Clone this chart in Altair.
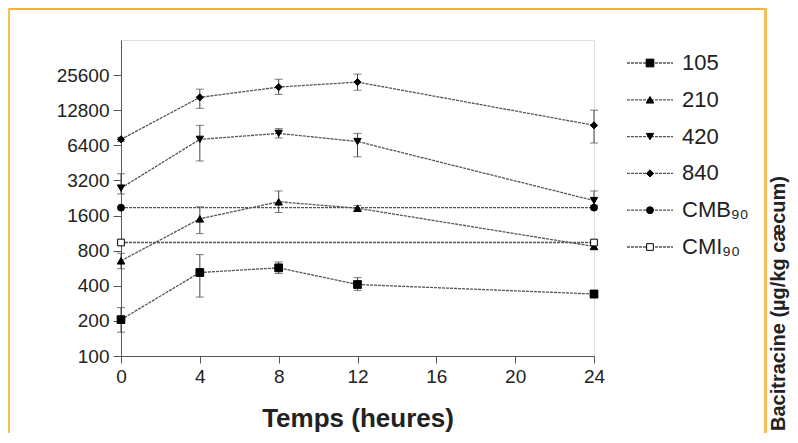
import altair as alt
import pandas as pd
import numpy as np

# ---------------- data ----------------
times = [0, 4, 8, 12, 24]
series_keys = ["105", "210", "420", "840", "CMB", "CMI"]
legend_labels = ["105", "210", "420", "840", "CMB₉₀", "CMI₉₀"]

v105 = [205, 520, 570, 410, 340]
lo105 = [160, 320, 510, 365, 315]
hi105 = [260, 740, 640, 470, 365]

v210 = [655, 1500, 2100, 1850, 870]
lo210 = [560, 1120, 1700, 1750, 820]
hi210 = [760, 1900, 2600, 1950, 920]

v420 = [2750, 7200, 8100, 6900, 2150]
lo420 = [2450, 4700, 7400, 5100, 1950]
hi420 = [3650, 9500, 8900, 8100, 2600]

v840 = [7200, 16500, 20200, 22300, 9500]
lo840 = [6900, 13300, 17500, 19000, 6700]
hi840 = [7500, 19400, 23600, 26100, 12800]

ref_times = [0, 24]
cmb_value = 1870
cmi_value = 940

y_ticks = [100, 200, 400, 800, 1600, 3200, 6400, 12800, 25600]
x_ticks = [0, 4, 8, 12, 16, 20, 24]
y_title = "Bacitracine (µg/kg cæcum)"
x_title = "Temps (heures)"

# ---------------- tables ----------------
rows = []
for key, v, lo, hi in [("105", v105, lo105, hi105), ("210", v210, lo210, hi210),
                       ("420", v420, lo420, hi420), ("840", v840, lo840, hi840)]:
    for t, a, b, c in zip(times, v, lo, hi):
        rows.append({"series": key, "t": t, "value": a, "lo": b, "hi": c})
for key, val in [("CMB", cmb_value), ("CMI", cmi_value)]:
    for t in ref_times:
        rows.append({"series": key, "t": t, "value": val, "lo": np.nan, "hi": np.nan})
df = pd.DataFrame(rows)
err = df.dropna(subset=["lo", "hi"])

leg = pd.DataFrame({"series": series_keys, "label": legend_labels})

FONT = "Liberation Sans"
shape_scale = alt.Scale(domain=series_keys,
                        range=["square", "triangle-up", "triangle-down", "diamond", "circle", "square"])
fill_scale = alt.Scale(domain=series_keys,
                       range=["black", "black", "black", "black", "black", "white"])
size_scale = alt.Scale(domain=series_keys, range=[60, 45, 45, 35, 60, 40])

x_enc = alt.X("t:Q", scale=alt.Scale(domain=[0, 24], nice=False),
              axis=alt.Axis(values=x_ticks, title=x_title, tickSize=7, labelPadding=4,
                            labelFlush=False,
                            titlePadding=19, titleFontSize=26, titleFontWeight="bold",
                            labelFontSize=19, domainColor="#555", tickColor="#555",
                            labelColor="#222", titleColor="#222", labelFont=FONT, titleFont=FONT,
                            grid=False))
y_scale = alt.Scale(type="log", base=2, domain=[100, 51200], nice=False)
y_axis = alt.Axis(values=y_ticks, format="d", title=None, tickSize=8, labelPadding=4,
                  labelFontSize=19, domainColor="#555", tickColor="#555", labelColor="#222",
                  labelFont=FONT, grid=False)

base = alt.Chart(df)
lines = base.mark_line(color="#555", strokeWidth=1.3, strokeDash=[3, 1]).encode(
    x=x_enc, y=alt.Y("value:Q", scale=y_scale, axis=y_axis), detail="series:N")
ebar = alt.Chart(err).mark_rule(color="#444", strokeWidth=1).encode(
    x="t:Q", y=alt.Y("lo:Q", scale=y_scale), y2="hi:Q")
cap_lo = alt.Chart(err).mark_tick(color="#444", orient="horizontal", size=8, thickness=1).encode(
    x="t:Q", y=alt.Y("lo:Q", scale=y_scale))
cap_hi = alt.Chart(err).mark_tick(color="#444", orient="horizontal", size=8, thickness=1).encode(
    x="t:Q", y=alt.Y("hi:Q", scale=y_scale))
pts = base.mark_point(stroke="black", strokeWidth=1, opacity=1, fillOpacity=1).encode(
    x="t:Q", y=alt.Y("value:Q", scale=y_scale),
    shape=alt.Shape("series:N", scale=shape_scale, legend=None),
    fill=alt.Fill("series:N", scale=fill_scale, legend=None),
    size=alt.Size("series:N", scale=size_scale, legend=None))
main = alt.layer(lines, ebar, cap_lo, cap_hi, pts)

# ---------------- hand-made legend ----------------
ly = alt.Y("series:N", scale=alt.Scale(type="point", domain=series_keys, range=[23, 207], padding=0),
           axis=None)
lg = alt.Chart(leg)
leg_line = lg.mark_rule(color="#555", strokeWidth=1.3, strokeDash=[3, 1]).encode(
    x=alt.value(506), x2=alt.value(552), y=ly)
leg_pts = lg.mark_point(stroke="black", strokeWidth=1, opacity=1, fillOpacity=1).encode(
    x=alt.value(529), y=ly,
    shape=alt.Shape("series:N", scale=shape_scale, legend=None),
    fill=alt.Fill("series:N", scale=fill_scale, legend=None),
    size=alt.Size("series:N", scale=size_scale, legend=None))
leg_txt = lg.mark_text(align="left", baseline="middle", fontSize=22, font=FONT, color="#222").encode(
    x=alt.value(561), y=ly, text="label:N")
legend = alt.layer(leg_line, leg_pts, leg_txt)

# ---------------- decoration: side title and orange frame ----------------
one = pd.DataFrame({"txt": [y_title]})
side_title = alt.Chart(one).mark_text(angle=270, align="left", baseline="middle", fontSize=20,
                                      font=FONT, color="#222", fontWeight="bold").encode(
    x=alt.value(658), y=alt.value(391), text="txt:N")
ORANGE = "#FCB02B"
top_bar = alt.Chart(one).mark_rect(color=ORANGE).encode(
    x=alt.value(-113), x2=alt.value(646), y=alt.value(-32), y2=alt.value(-30))
left_bar = alt.Chart(one).mark_rect(color="#F9BE55").encode(
    x=alt.value(-113), x2=alt.value(-111), y=alt.value(-32), y2=alt.value(400))
right_bar = alt.Chart(one).mark_rect(color="#F9BE55").encode(
    x=alt.value(643), x2=alt.value(646), y=alt.value(-32), y2=alt.value(400))
deco = alt.layer(side_title, top_bar, left_bar, right_bar)

chart = alt.layer(main, legend, deco).resolve_scale(y="independent").properties(
    width=473, height=316,
    padding={"left": 113, "top": 32, "right": 196, "bottom": 77},
    autosize=alt.AutoSizeParams(type="none"),
).configure_view(stroke=None).configure(background="white")

chart.save("out.html", embed_options={"renderer": "svg", "actions": False})
